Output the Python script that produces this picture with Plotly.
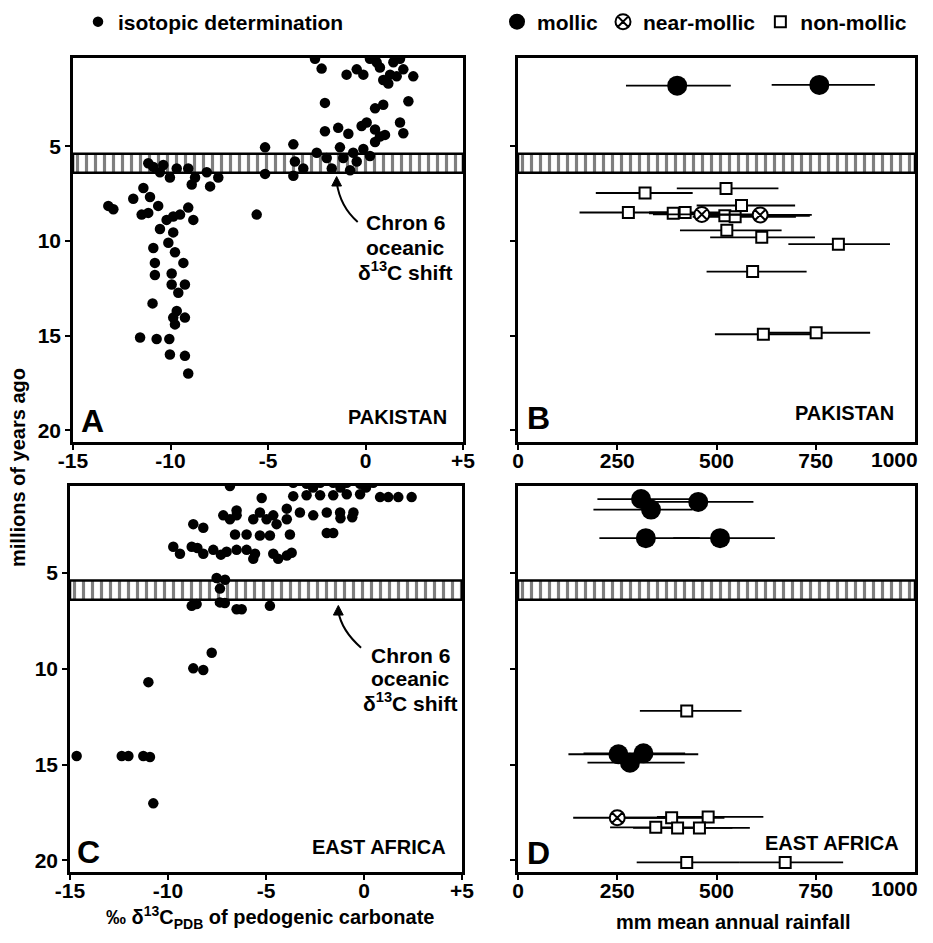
import plotly.graph_objects as go

# ---------------- DATA ----------------
# Panel A: Pakistan, isotopic determinations (d13C permil, age Ma)
pak_d13c = [-2.59, -2.25, -0.97, -0.45, -0.11, 0.23, 0.74, 0.91, 1.26, 1.77, 1.94, 2.45, 1.43, 0.57, 1.6, 1.17,
            -2.08, 0.49, 0.91, 2.2, -2.08, -1.4, -0.88, -0.2, 0.06, 0.49, 0.74, 1.0, 0.49, 1.77, 1.94,
            -5.15, -3.7, -5.15, -3.7, -3.19, -3.62, -2.5, -1.99, -1.73, -1.31, -1.14, -0.79, -0.63, -0.11, 0.23, -0.45,
            -10.54, -10.03, -10.37, -9.68, -10.88, -11.14, -9.09, -8.74, -8.91, -8.14, -7.55, -7.97,
            -13.19, -12.93, -11.91, -11.39, -11.05, -11.48, -11.14, -10.63, -5.58, -10.54, -10.2, -9.86, -9.51,
            -9.09, -8.83, -9.86, -10.88, -10.11, -9.77, -10.8, -9.34, -10.8, -9.94,
            -9.94, -9.26, -9.6, -10.92, -9.68, -9.86, -9.26, -9.77, -11.56, -10.71, -10.06, -10.03, -9.26, -9.09]
pak_age = [0.38, 0.9, 1.22, 0.94, 1.22, 0.38, 0.84, 1.5, 1.22, 0.38, 0.94, 1.31, 0.56, 0.56, 1.31, 1.69,
           2.71, 3.0, 2.81, 2.62, 4.21, 4.03, 4.34, 3.93, 3.75, 4.12, 4.49, 4.4, 4.78, 3.75, 4.31,
           5.06, 4.9, 6.46, 6.56, 6.18, 5.81, 5.34, 5.62, 6.18, 5.06, 5.62, 6.27, 5.34, 5.15, 5.52, 5.81,
           6.37, 6.65, 5.99, 6.18, 6.09, 5.9, 6.18, 6.65, 7.02, 6.37, 6.65, 7.12,
           8.15, 8.33, 7.77, 7.21, 7.68, 8.61, 8.52, 8.15, 8.61, 9.37, 8.89, 8.71, 8.61,
           8.24, 8.89, 9.55, 10.37, 10.1, 10.6, 11.16, 11.16, 11.8, 11.72,
           12.3, 12.3, 12.74, 13.3, 13.7, 14.05, 14.05, 14.41, 15.1, 15.18, 15.18, 16.0, 16.07, 17.0]

# Panel C: East Africa, isotopic determinations
eaf_d13c = [-6.84, -3.61, -2.93, -2.24, -1.57, -0.88, -0.2, 0.47, -2.6, -1.2, 0.1,
            -3.61, -2.93, -2.24, -1.57, -0.88, -0.2, 0.82, 1.24, 1.75, 2.43, -5.22,
            -7.18, -6.5, -5.31, -4.63, -3.94, -3.27, -2.59, -1.9, -1.22, -0.54, -1.2, -0.6,
            -6.84, -6.5, -5.65, -4.97, -4.46, -3.94, -8.71, -8.2, -1.57, -1.9,
            -6.58, -5.99, -5.31, -4.8, -3.78,
            -9.73, -9.39, -8.79, -8.2, -7.69, -7.01, -6.5, -5.99, -5.56, -5.65, -4.63, -3.94, -3.69, -4.38, -8.5, -7.3,
            -7.52, -7.09, -7.35, -7.35, -7.1, -8.79, -8.54, -6.5, -6.24, -4.8,
            -7.77, -8.71, -8.2, -11.0, -14.66, -12.36, -12.02, -11.26, -10.92, -10.75]
eaf_age = [0.47, 0.3, 0.35, 0.3, 0.3, 0.3, 0.35, 0.3, 0.55, 0.55, 0.55,
           1.0, 0.95, 0.95, 0.95, 0.9, 0.9, 1.05, 1.05, 1.05, 1.05, 1.1,
           2.0, 1.75, 1.85, 2.0, 1.65, 1.85, 2.0, 1.85, 1.85, 1.85, 2.15, 2.1,
           2.2, 2.0, 2.2, 2.2, 2.46, 2.2, 2.46, 2.65, 2.92, 2.92,
           3.0, 3.0, 3.05, 3.05, 3.0,
           3.64, 4.0, 3.64, 4.0, 3.8, 3.9, 3.8, 3.8, 4.0, 4.27, 4.0, 4.1, 3.95, 4.27, 3.7, 4.05,
           5.27, 5.36, 5.82, 6.54, 6.57, 6.72, 6.63, 6.9, 6.9, 6.72,
           9.17, 9.98, 10.07, 10.7, 14.55, 14.55, 14.55, 14.55, 14.6, 17.02]

# Panel B: Pakistan paleosols, mean annual rainfall (mm) with ranges
b_mollic_rain = [401, 759]
b_mollic_age = [1.8, 1.76]
b_mollic_lo = [272, 639]
b_mollic_hi = [536, 899]

b_near_rain = [463, 610]
b_near_age = [8.6, 8.63]
b_near_lo = [340, 480]
b_near_hi = [600, 740]

b_non_rain = [320, 524, 278, 391, 421, 521, 547, 563, 526, 614, 807, 591, 618, 751]
b_non_age = [7.47, 7.23, 8.5, 8.54, 8.5, 8.67, 8.73, 8.13, 9.44, 9.81, 10.17, 11.62, 14.93, 14.85]
b_non_lo = [196, 400, 155, 330, 330, 484, 440, 450, 408, 484, 681, 475, 496, 620]
b_non_hi = [440, 656, 400, 560, 560, 735, 700, 698, 664, 748, 937, 727, 760, 887]

# Panel D: East Africa paleosols
d_mollic_rain = [310, 335, 454, 322, 509, 253, 316, 282]
d_mollic_age = [1.15, 1.7, 1.3, 3.19, 3.19, 14.46, 14.41, 14.9]
d_mollic_lo = [200, 190, 330, 205, 391, 127, 165, 175]
d_mollic_hi = [470, 440, 593, 458, 647, 454, 421, 420]

d_near_rain = [250]
d_near_age = [17.77]
d_near_lo = [139]
d_near_hi = [370]

d_non_rain = [425, 387, 479, 347, 402, 457, 425, 673]
d_non_age = [12.2, 17.77, 17.73, 18.27, 18.3, 18.3, 20.1, 20.1]
d_non_lo = [307, 260, 350, 232, 290, 330, 299, 559]
d_non_hi = [563, 520, 618, 470, 540, 584, 559, 819]

# Chron 6 oceanic d13C shift (Ma)
chron6 = [5.4, 6.4]

# Axis ticks
iso_ticks = [-15, -10, -5, 0, 5]
iso_ticktext = ["-15", "-10", "-5", "0", "+5"]
rain_ticks = [0, 250, 500, 750, 1000]
rain_ticktext = ["0", "250", "500", "750", "1000"]
age_ticks = [5, 10, 15, 20]

# ---------------- FIGURE ----------------
# page has an 8px body margin, so the figure is 16px smaller than the window
OFF = 8
W, H = 933 - 2 * OFF, 943 - 2 * OFF
FONT = "Liberation Sans, Arial, Helvetica, sans-serif"


def px(x, y):
    return (x - OFF) / W, 1 - (y - OFF) / H


def dom_x(a, b):
    return [(a - OFF) / W, (b - OFF) / W]


def dom_y(top, bottom):
    return [1 - (bottom - OFF) / H, 1 - (top - OFF) / H]


fig = go.Figure()

iso_range = [-15, 5]
rain_range = [0, 1000]


def band(xa, ya, xr):
    fig.add_trace(go.Scatter(
        x=[xr[0], xr[1], xr[1], xr[0], xr[0]],
        y=[chron6[0], chron6[0], chron6[1], chron6[1], chron6[0]],
        xaxis=xa, yaxis=ya, mode="lines", fill="toself",
        fillcolor="white",
        fillpattern=dict(shape="|", fgcolor="black", bgcolor="white", size=9, solidity=0.35),
        line=dict(color="black", width=2.5),
        hoverinfo="skip", showlegend=False))


band("x", "y", iso_range)
band("x2", "y2", rain_range)
band("x3", "y3", iso_range)
band("x4", "y4", rain_range)

dot = dict(color="black", size=10.5)
fig.add_trace(go.Scatter(x=pak_d13c, y=pak_age, xaxis="x", yaxis="y", mode="markers",
                         marker=dot, name="isotopic determination", legend="legend",
                         showlegend=True))
fig.add_trace(go.Scatter(x=eaf_d13c, y=eaf_age, xaxis="x3", yaxis="y3", mode="markers",
                         marker=dot, name="isotopic determination", showlegend=False))


def soil(xv, yv, lo, hi, xa, ya, kind, show):
    plus = [h - v for h, v in zip(hi, xv)]
    minus = [v - l for v, l in zip(xv, lo)]
    if kind == "mollic":
        mk = dict(symbol="circle", size=20, color="black", line=dict(width=0))
    elif kind == "near-mollic":
        mk = dict(symbol="circle-x", size=15, color="white", line=dict(color="black", width=2))
    else:
        mk = dict(symbol="square", size=11, color="white", line=dict(color="black", width=2))
    fig.add_trace(go.Scatter(
        x=xv, y=yv, xaxis=xa, yaxis=ya, mode="markers", marker=mk, name=kind,
        error_x=dict(type="data", symmetric=False, array=plus, arrayminus=minus,
                     width=0, thickness=1.8, color="black"),
        legend="legend2", showlegend=show))


soil(b_mollic_rain, b_mollic_age, b_mollic_lo, b_mollic_hi, "x2", "y2", "mollic", True)
soil(b_non_rain, b_non_age, b_non_lo, b_non_hi, "x2", "y2", "non-mollic", False)
soil(b_near_rain, b_near_age, b_near_lo, b_near_hi, "x2", "y2", "near-mollic", True)
soil(d_mollic_rain, d_mollic_age, d_mollic_lo, d_mollic_hi, "x4", "y4", "mollic", False)
soil(d_non_rain, d_non_age, d_non_lo, d_non_hi, "x4", "y4", "non-mollic", True)
soil(d_near_rain, d_near_age, d_near_lo, d_near_hi, "x4", "y4", "near-mollic", False)

tickfont = dict(family=FONT, size=21, color="black", weight="bold")
axcommon = dict(showline=True, linecolor="black", linewidth=2.5, mirror=True,
                ticks="outside", ticklen=5, tickwidth=2, tickcolor="black",
                showgrid=False, zeroline=False, tickfont=tickfont, automargin=False,
                ticklabeloverflow="allow")
xcommon = dict(axcommon, ticklabelstandoff=-7)

xA = dom_x(73, 463)
xB = dom_x(518, 915)
xC = dom_x(70, 462)
yTop = dom_y(58, 442)
yBot = dom_y(486, 872)

legfont = dict(family=FONT, size=21, color="black", weight="bold")
lx1, ly1 = px(78, 22)
lx2, ly2 = px(497, 22)

fig.update_layout(
    width=W, height=H, margin=dict(l=0, r=0, t=0, b=0, autoexpand=False),
    paper_bgcolor="white", plot_bgcolor="white",
    font=dict(family=FONT, color="black"),
    xaxis=dict(domain=xA, range=iso_range, tickvals=iso_ticks, ticktext=iso_ticktext, anchor="y", **xcommon),
    yaxis=dict(domain=yTop, range=[20.62, 0.34], tickvals=age_ticks, anchor="x", **axcommon),
    xaxis2=dict(domain=xB, range=rain_range, tickvals=rain_ticks[:-1], ticktext=rain_ticktext[:-1], anchor="y2", **xcommon),
    yaxis2=dict(domain=yTop, range=[20.62, 0.34], tickvals=age_ticks, showticklabels=False, anchor="x2", **axcommon),
    xaxis3=dict(domain=xC, range=iso_range, tickvals=iso_ticks, ticktext=iso_ticktext, anchor="y3", **xcommon),
    yaxis3=dict(domain=yBot, range=[20.6, 0.47], tickvals=age_ticks, anchor="x3", **axcommon),
    xaxis4=dict(domain=xB, range=rain_range, tickvals=rain_ticks[:-1], ticktext=rain_ticktext[:-1], anchor="y4", **xcommon),
    yaxis4=dict(domain=yBot, range=[20.6, 0.47], tickvals=age_ticks, showticklabels=False, anchor="x4", **axcommon),
    legend=dict(x=lx1, y=ly1, xanchor="left", yanchor="middle", orientation="h",
                font=legfont, bgcolor="rgba(0,0,0,0)", borderwidth=0),
    legend2=dict(x=lx2, y=ly2, xanchor="left", yanchor="middle", orientation="h",
                 font=legfont, bgcolor="rgba(0,0,0,0)", borderwidth=0, traceorder="normal"),
    showlegend=True,
)

ann = []


def text(t, x, y, size=21, xanchor="center", angle=0):
    px_x, px_y = px(x, y)
    ann.append(dict(text=t, x=px_x, y=px_y, xref="paper", yref="paper", showarrow=False,
                    xanchor=xanchor, yanchor="middle", textangle=angle,
                    font=dict(family=FONT, size=size, color="black", weight="bold")))


# last rainfall tick label, kept inside the page edge as in the original
text(rain_ticktext[-1], 920, 459, xanchor="right")
text(rain_ticktext[-1], 920, 888, xanchor="right")

# panel letters and regions
text("A", 92, 421, size=32)
text("B", 538, 418, size=32)
text("C", 88, 852, size=32)
text("D", 538, 853, size=32)
text("PAKISTAN", 449, 417, size=20, xanchor="right")
text("PAKISTAN", 896, 413, size=20, xanchor="right")
text("EAST AFRICA", 448, 847, size=20, xanchor="right")
text("EAST AFRICA", 901, 843, size=20, xanchor="right")

# Chron 6 labels
for cx, ys in [(405, [223, 247, 271]), (410, [655, 678, 702])]:
    text("Chron 6", cx, ys[0])
    text("oceanic", cx, ys[1])
    text("δ<sup>13</sup>C shift", cx, ys[2])

# axis titles
text("millions of years ago", 18, 468, size=20, angle=-90)
text("‰ δ<sup>13</sup>C<sub>PDB</sub> of pedogenic carbonate", 270, 917, size=20)
text("mm mean annual rainfall", 733, 922, size=20)

# arrows (curved stems + triangular heads) pointing to the Chron 6 band
arrows = [("x", "y", (-1.48, 6.6), (-1.3, 8.2), (-0.4, 9.0)),
          ("x3", "y3", (-1.31, 6.7), (-1.15, 8.0), (-0.15, 8.9))]
shapes = []
for xa, ya, tip, ctrl, tail in arrows:
    shapes.append(dict(type="path", xref=xa, yref=ya,
                       path=f"M {tail[0]},{tail[1]} Q {ctrl[0]},{ctrl[1]} {tip[0]},{tip[1] + 0.3}",
                       line=dict(color="black", width=2)))
    shapes.append(dict(type="path", xref=xa, yref=ya,
                       path=(f"M {tip[0]},{tip[1]} L {tip[0] - 0.25},{tip[1] + 0.5} "
                             f"L {tip[0] + 0.25},{tip[1] + 0.5} Z"),
                       fillcolor="black", line=dict(color="black", width=1)))

fig.update_layout(annotations=ann, shapes=shapes)

fig.write_html("out.html")
